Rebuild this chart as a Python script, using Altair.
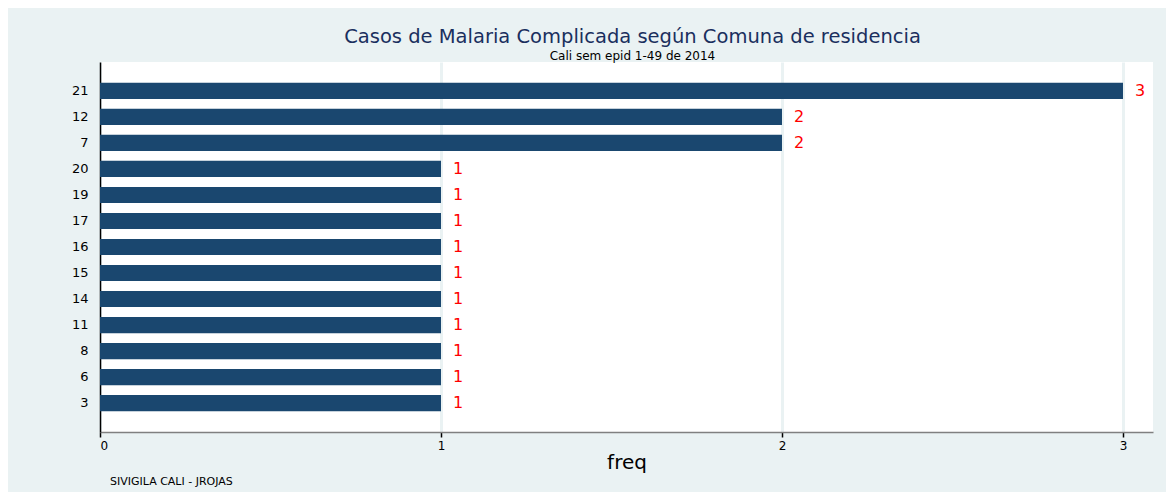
import altair as alt
import pandas as pd

comunas = ["21", "12", "7", "20", "19", "17", "16", "15", "14", "11", "8", "6", "3"]
freqs = [3, 2, 2, 1, 1, 1, 1, 1, 1, 1, 1, 1, 1]
x_ticks = [0, 1, 2, 3]

title_text = "Casos de Malaria Complicada según Comuna de residencia"
subtitle_text = "Cali sem epid 1-49 de 2014"
x_title = "freq"
note_text = "SIVIGILA CALI -  JROJAS"

df = pd.DataFrame({"comuna": comunas, "freq": freqs})
note_df = pd.DataFrame({"note": [note_text]})

FONT = "DejaVu Sans"
W, H = 1053, 370

x_enc = alt.X(
    "freq:Q",
    scale=alt.Scale(domain=[0, 3.088], nice=False, zero=True),
    axis=alt.Axis(
        values=x_ticks,
        title=x_title,
        format="d",
        grid=True,
        gridColor="#eaf2f3",
        gridWidth=3,
        domainColor="#808080",
        domainWidth=1.5,
        tickColor="#000000",
        tickWidth=1.5,
        tickSize=5,
        labelFont=FONT,
        labelFontSize=12,
        labelColor="#000000",
        labelPadding=3,
        titleFont=FONT,
        titleFontSize=20,
        titleFontWeight="normal",
        titleColor="#000000",
        titlePadding=1,
    ),
)
y_enc = alt.Y(
    "comuna:N",
    sort=comunas,
    scale=alt.Scale(paddingInner=0.38, paddingOuter=0.8),
    axis=alt.Axis(
        title=None,
        ticks=False,
        grid=False,
        domainColor="#000000",
        domainWidth=1.5,
        labelFont=FONT,
        labelFontSize=13,
        labelColor="#000000",
        labelPadding=12,
    ),
)

bars = alt.Chart(df).mark_bar(color="#1a476f").encode(x=x_enc, y=y_enc)
labels = alt.Chart(df).mark_text(
    align="left", baseline="middle", dx=12, color="#ff0000", font=FONT, fontSize=16
).encode(x="freq:Q", y=alt.Y("comuna:N", sort=comunas), text="freq:Q")
note = alt.Chart(note_df).mark_text(
    align="left", baseline="middle", font=FONT, fontSize=11, color="#000000"
).encode(x=alt.value(10), y=alt.value(420), text="note:N")

chart = (
    alt.layer(bars, labels, note)
    .properties(
        width=W,
        height=H,
        autosize=alt.AutoSizeParams(type="none"),
        padding={"left": 92, "top": 54, "right": 13, "bottom": 60},
        background="#eaf2f3",
        title=alt.TitleParams(
            text=title_text,
            subtitle=subtitle_text,
            anchor="middle",
            frame="group",
            dx=6,
            font=FONT,
            fontSize=19.5,
            fontWeight="normal",
            color="#1a2f5e",
            subtitleFont=FONT,
            subtitleFontSize=12,
            subtitleColor="#000000",
            subtitlePadding=3,
            offset=-0.5,
        ),
    )
    .configure_view(fill="#ffffff", stroke=None)
)

chart.save("out.html", embed_options={"renderer": "svg", "actions": False})
